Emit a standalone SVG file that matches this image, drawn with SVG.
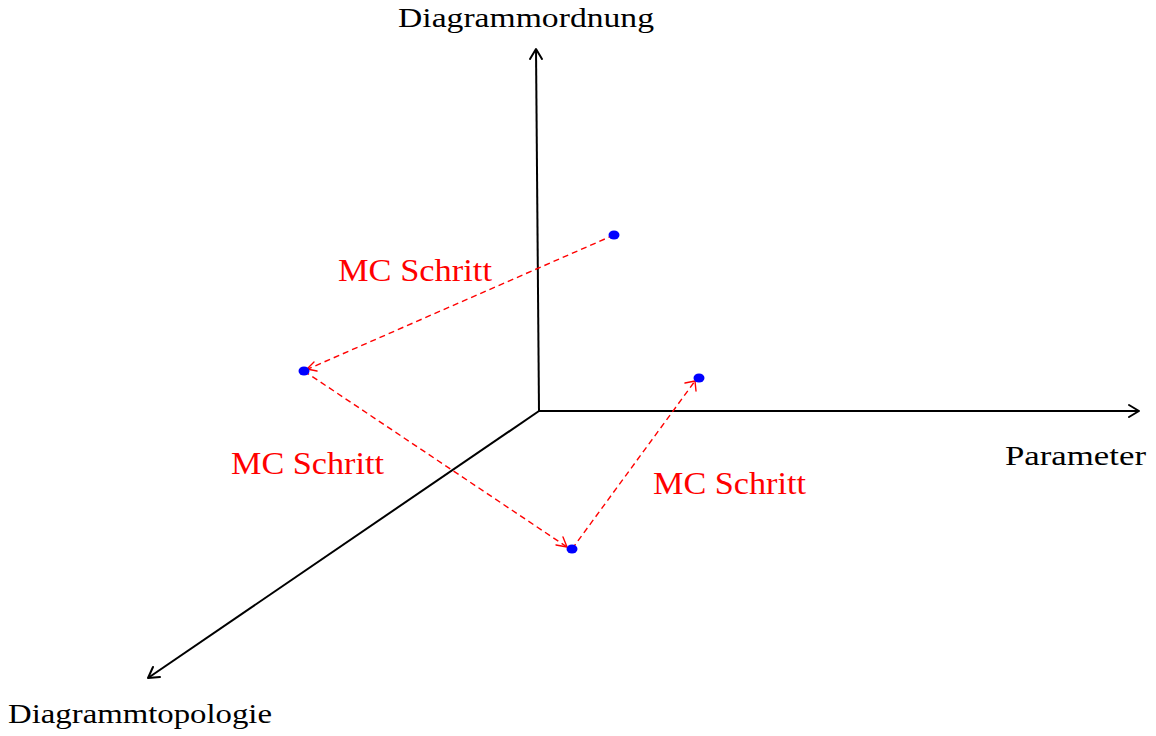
<svg xmlns="http://www.w3.org/2000/svg" width="1156" height="736" viewBox="0 0 1156 736">
<style>
.axis{stroke:#000;stroke-width:2;fill:none}
.ah{stroke:#000;stroke-width:2;fill:none;stroke-linecap:round;stroke-linejoin:round}
.step{stroke:#f00;stroke-width:1.4;fill:none;stroke-dasharray:6,4}
.sh{stroke:#f00;stroke-width:1.4;fill:none;stroke-linecap:round;stroke-linejoin:round}
.lbl{font-family:"Liberation Serif",serif;font-size:28px;fill:#000}
.red{font-family:"Liberation Serif",serif;font-size:31px;fill:#f00}
.dot{fill:#00f}
</style>
<rect width="1156" height="736" fill="#fff"/>
<g id="axes">
<line class="axis" x1="539" y1="411" x2="536" y2="49"/>
<polyline class="ah" points="530,59 536,49 542,59"/>
<line class="axis" x1="539" y1="411" x2="1139" y2="411"/>
<polyline class="ah" points="1129,405 1139,411 1129,417"/>
<line class="axis" x1="539" y1="411" x2="148" y2="678"/>
<polyline class="ah" points="153,667 148,678 160,677"/>
</g>
<g id="connectors">
<line class="step" x1="614" y1="235" x2="308" y2="369"/>
<polyline class="sh" points="314,362 307,369 317,371"/>
<line class="step" x1="304" y1="371" x2="567" y2="547"/>
<polyline class="sh" points="556,545 567,547 563,537"/>
<line class="step" x1="572" y1="549" x2="695" y2="381"/>
<polyline class="sh" points="685,383 695,381 696,391"/>
</g>
<g id="pointA"><ellipse class="dot" cx="614" cy="235" rx="5.5" ry="4.5"/></g>
<g id="pointB"><ellipse class="dot" cx="304" cy="371" rx="5.5" ry="4.5"/></g>
<g id="pointC"><ellipse class="dot" cx="572" cy="549" rx="5.5" ry="4.5"/></g>
<g id="pointD"><ellipse class="dot" cx="699" cy="378" rx="5.5" ry="4.5"/></g>
<g id="labels">
<text class="lbl" x="398" y="27" textLength="256" lengthAdjust="spacingAndGlyphs">Diagrammordnung</text>
<text class="lbl" x="1005" y="465" textLength="141" lengthAdjust="spacingAndGlyphs">Parameter</text>
<text class="lbl" x="8" y="723" textLength="264" lengthAdjust="spacingAndGlyphs">Diagrammtopologie</text>
<text class="red" x="338" y="281" textLength="154" lengthAdjust="spacingAndGlyphs">MC Schritt</text>
<text class="red" x="231" y="474" textLength="153" lengthAdjust="spacingAndGlyphs">MC Schritt</text>
<text class="red" x="653" y="494" textLength="153" lengthAdjust="spacingAndGlyphs">MC Schritt</text>
</g>
</svg>
